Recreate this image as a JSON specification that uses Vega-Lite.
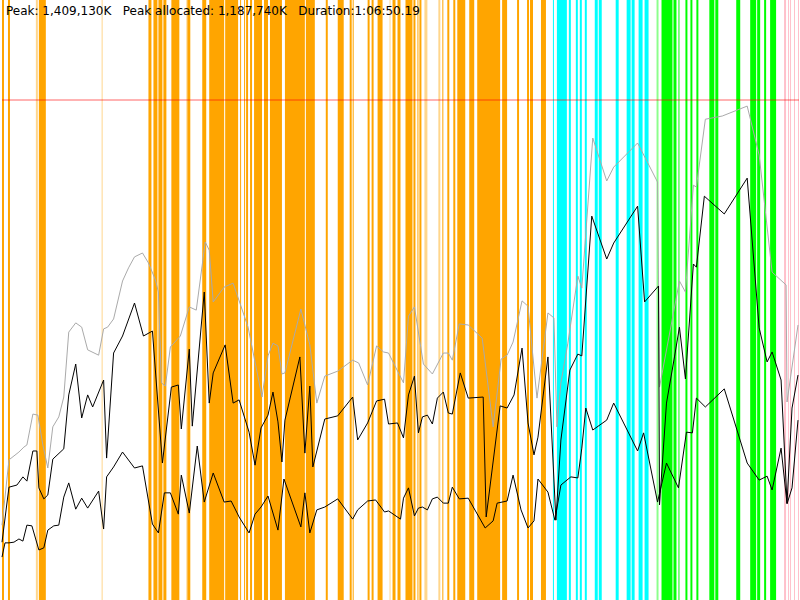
{
  "$schema": "https://vega.github.io/schema/vega-lite/v6.json",
  "description": "Heap profile over the run: GC phases as stripes, heap size and live data as lines",
  "width": 800,
  "height": 600,
  "padding": 0,
  "autosize": {"type": "fit", "contains": "padding"},
  "background": "white",
  "config": {"view": {"stroke": null}},
  "datasets": {
    "gc": [
      {"start": 0, "end": 10, "phase": "p1", "weak": 0},
      {"start": 30, "end": 40, "phase": "p1", "weak": 0},
      {"start": 170, "end": 180, "phase": "p1", "weak": 1},
      {"start": 185, "end": 220, "phase": "p1", "weak": 0},
      {"start": 500, "end": 505, "phase": "p1", "weak": 1},
      {"start": 735, "end": 750, "phase": "p1", "weak": 0},
      {"start": 760, "end": 780, "phase": "p1", "weak": 0},
      {"start": 785, "end": 805, "phase": "p1", "weak": 0},
      {"start": 810, "end": 825, "phase": "p1", "weak": 0},
      {"start": 850, "end": 890, "phase": "p1", "weak": 0},
      {"start": 925, "end": 930, "phase": "p1", "weak": 1},
      {"start": 930, "end": 945, "phase": "p1", "weak": 0},
      {"start": 1005, "end": 1025, "phase": "p1", "weak": 0},
      {"start": 1040, "end": 1115, "phase": "p1", "weak": 0},
      {"start": 1120, "end": 1185, "phase": "p1", "weak": 0},
      {"start": 1195, "end": 1200, "phase": "p1", "weak": 0},
      {"start": 1215, "end": 1220, "phase": "p1", "weak": 0},
      {"start": 1225, "end": 1235, "phase": "p1", "weak": 0},
      {"start": 1245, "end": 1255, "phase": "p1", "weak": 0},
      {"start": 1265, "end": 1305, "phase": "p1", "weak": 0},
      {"start": 1315, "end": 1335, "phase": "p1", "weak": 0},
      {"start": 1345, "end": 1405, "phase": "p1", "weak": 0},
      {"start": 1420, "end": 1520, "phase": "p1", "weak": 0},
      {"start": 1525, "end": 1570, "phase": "p1", "weak": 0},
      {"start": 1625, "end": 1635, "phase": "p1", "weak": 0},
      {"start": 1685, "end": 1715, "phase": "p1", "weak": 0},
      {"start": 1745, "end": 1755, "phase": "p1", "weak": 0},
      {"start": 1760, "end": 1765, "phase": "p1", "weak": 0},
      {"start": 1835, "end": 1845, "phase": "p1", "weak": 0},
      {"start": 1855, "end": 1865, "phase": "p1", "weak": 0},
      {"start": 1885, "end": 1910, "phase": "p1", "weak": 0},
      {"start": 1945, "end": 1950, "phase": "p1", "weak": 1},
      {"start": 1960, "end": 1975, "phase": "p1", "weak": 0},
      {"start": 1985, "end": 2000, "phase": "p1", "weak": 0},
      {"start": 2025, "end": 2060, "phase": "p1", "weak": 0},
      {"start": 2065, "end": 2075, "phase": "p1", "weak": 0},
      {"start": 2085, "end": 2090, "phase": "p1", "weak": 0},
      {"start": 2095, "end": 2105, "phase": "p1", "weak": 0},
      {"start": 2120, "end": 2135, "phase": "p1", "weak": 1},
      {"start": 2190, "end": 2200, "phase": "p1", "weak": 1},
      {"start": 2210, "end": 2215, "phase": "p1", "weak": 0},
      {"start": 2235, "end": 2245, "phase": "p1", "weak": 0},
      {"start": 2265, "end": 2275, "phase": "p1", "weak": 0},
      {"start": 2285, "end": 2325, "phase": "p1", "weak": 0},
      {"start": 2345, "end": 2370, "phase": "p1", "weak": 0},
      {"start": 2385, "end": 2500, "phase": "p1", "weak": 0},
      {"start": 2510, "end": 2535, "phase": "p1", "weak": 0},
      {"start": 2585, "end": 2595, "phase": "p1", "weak": 0},
      {"start": 2635, "end": 2645, "phase": "p1", "weak": 0},
      {"start": 2650, "end": 2665, "phase": "p1", "weak": 0},
      {"start": 2705, "end": 2730, "phase": "p1", "weak": 0},
      {"start": 2765, "end": 2770, "phase": "p2", "weak": 0},
      {"start": 2785, "end": 2835, "phase": "p2", "weak": 0},
      {"start": 2845, "end": 2855, "phase": "p2", "weak": 0},
      {"start": 2880, "end": 2890, "phase": "p2", "weak": 0},
      {"start": 2900, "end": 2910, "phase": "p2", "weak": 0},
      {"start": 2925, "end": 2935, "phase": "p2", "weak": 0},
      {"start": 2975, "end": 2990, "phase": "p2", "weak": 0},
      {"start": 2995, "end": 3010, "phase": "p2", "weak": 0},
      {"start": 3080, "end": 3095, "phase": "p2", "weak": 0},
      {"start": 3135, "end": 3155, "phase": "p2", "weak": 0},
      {"start": 3160, "end": 3175, "phase": "p2", "weak": 0},
      {"start": 3195, "end": 3215, "phase": "p2", "weak": 0},
      {"start": 3225, "end": 3245, "phase": "p2", "weak": 0},
      {"start": 3285, "end": 3295, "phase": "p3", "weak": 1},
      {"start": 3310, "end": 3365, "phase": "p3", "weak": 0},
      {"start": 3370, "end": 3385, "phase": "p3", "weak": 0},
      {"start": 3395, "end": 3400, "phase": "p3", "weak": 0},
      {"start": 3430, "end": 3440, "phase": "p3", "weak": 0},
      {"start": 3455, "end": 3465, "phase": "p3", "weak": 0},
      {"start": 3485, "end": 3495, "phase": "p3", "weak": 0},
      {"start": 3550, "end": 3575, "phase": "p3", "weak": 0},
      {"start": 3580, "end": 3595, "phase": "p3", "weak": 0},
      {"start": 3685, "end": 3705, "phase": "p3", "weak": 0},
      {"start": 3755, "end": 3785, "phase": "p3", "weak": 0},
      {"start": 3790, "end": 3805, "phase": "p3", "weak": 0},
      {"start": 3825, "end": 3835, "phase": "p3", "weak": 0},
      {"start": 3855, "end": 3885, "phase": "p3", "weak": 0},
      {"start": 3925, "end": 3935, "phase": "p4", "weak": 0},
      {"start": 3945, "end": 3950, "phase": "p4", "weak": 0},
      {"start": 3955, "end": 3960, "phase": "p4", "weak": 0},
      {"start": 3975, "end": 3980, "phase": "p4", "weak": 0},
      {"start": 3995, "end": 4000, "phase": "p4", "weak": 0}
    ],
    "mem": [
      {"series": "heap", "t": 0, "mb": 211}, {"series": "heap", "t": 35, "mb": 395},
      {"series": "heap", "t": 85, "mb": 417}, {"series": "heap", "t": 110, "mb": 431},
      {"series": "heap", "t": 125, "mb": 437}, {"series": "heap", "t": 155, "mb": 524},
      {"series": "heap", "t": 180, "mb": 521}, {"series": "heap", "t": 205, "mb": 437},
      {"series": "heap", "t": 230, "mb": 372}, {"series": "heap", "t": 255, "mb": 488},
      {"series": "heap", "t": 285, "mb": 516}, {"series": "heap", "t": 310, "mb": 572},
      {"series": "heap", "t": 335, "mb": 755}, {"series": "heap", "t": 370, "mb": 781},
      {"series": "heap", "t": 400, "mb": 769}, {"series": "heap", "t": 430, "mb": 705},
      {"series": "heap", "t": 485, "mb": 690}, {"series": "heap", "t": 510, "mb": 764},
      {"series": "heap", "t": 530, "mb": 769}, {"series": "heap", "t": 560, "mb": 792},
      {"series": "heap", "t": 605, "mb": 899}, {"series": "heap", "t": 635, "mb": 936},
      {"series": "heap", "t": 665, "mb": 967}, {"series": "heap", "t": 705, "mb": 978},
      {"series": "heap", "t": 735, "mb": 950}, {"series": "heap", "t": 770, "mb": 902},
      {"series": "heap", "t": 785, "mb": 868}, {"series": "heap", "t": 800, "mb": 612},
      {"series": "heap", "t": 820, "mb": 603}, {"series": "heap", "t": 845, "mb": 713},
      {"series": "heap", "t": 895, "mb": 744}, {"series": "heap", "t": 940, "mb": 826},
      {"series": "heap", "t": 975, "mb": 817}, {"series": "heap", "t": 1020, "mb": 1009},
      {"series": "heap", "t": 1040, "mb": 986}, {"series": "heap", "t": 1060, "mb": 840},
      {"series": "heap", "t": 1115, "mb": 882}, {"series": "heap", "t": 1160, "mb": 893},
      {"series": "heap", "t": 1235, "mb": 769}, {"series": "heap", "t": 1305, "mb": 572},
      {"series": "heap", "t": 1335, "mb": 688}, {"series": "heap", "t": 1360, "mb": 724},
      {"series": "heap", "t": 1385, "mb": 716}, {"series": "heap", "t": 1405, "mb": 637},
      {"series": "heap", "t": 1420, "mb": 640}, {"series": "heap", "t": 1500, "mb": 820},
      {"series": "heap", "t": 1545, "mb": 719}, {"series": "heap", "t": 1580, "mb": 555},
      {"series": "heap", "t": 1620, "mb": 631}, {"series": "heap", "t": 1685, "mb": 645},
      {"series": "heap", "t": 1760, "mb": 676}, {"series": "heap", "t": 1790, "mb": 668},
      {"series": "heap", "t": 1835, "mb": 606}, {"series": "heap", "t": 1880, "mb": 716},
      {"series": "heap", "t": 1915, "mb": 699}, {"series": "heap", "t": 1940, "mb": 696},
      {"series": "heap", "t": 2015, "mb": 612}, {"series": "heap", "t": 2040, "mb": 800},
      {"series": "heap", "t": 2070, "mb": 826}, {"series": "heap", "t": 2115, "mb": 665},
      {"series": "heap", "t": 2160, "mb": 637}, {"series": "heap", "t": 2215, "mb": 696},
      {"series": "heap", "t": 2240, "mb": 696}, {"series": "heap", "t": 2260, "mb": 676},
      {"series": "heap", "t": 2295, "mb": 778}, {"series": "heap", "t": 2340, "mb": 775},
      {"series": "heap", "t": 2410, "mb": 738}, {"series": "heap", "t": 2465, "mb": 488},
      {"series": "heap", "t": 2505, "mb": 679}, {"series": "heap", "t": 2535, "mb": 690},
      {"series": "heap", "t": 2565, "mb": 727}, {"series": "heap", "t": 2610, "mb": 843},
      {"series": "heap", "t": 2640, "mb": 828}, {"series": "heap", "t": 2685, "mb": 569},
      {"series": "heap", "t": 2740, "mb": 809}, {"series": "heap", "t": 2770, "mb": 795},
      {"series": "heap", "t": 2785, "mb": 488}, {"series": "heap", "t": 2805, "mb": 612},
      {"series": "heap", "t": 2840, "mb": 724}, {"series": "heap", "t": 2890, "mb": 913},
      {"series": "heap", "t": 2910, "mb": 879}, {"series": "heap", "t": 2965, "mb": 1302},
      {"series": "heap", "t": 3035, "mb": 1181}, {"series": "heap", "t": 3070, "mb": 1220},
      {"series": "heap", "t": 3190, "mb": 1288}, {"series": "heap", "t": 3290, "mb": 1178},
      {"series": "heap", "t": 3300, "mb": 600}, {"series": "heap", "t": 3400, "mb": 899},
      {"series": "heap", "t": 3430, "mb": 868}, {"series": "heap", "t": 3470, "mb": 1169},
      {"series": "heap", "t": 3485, "mb": 1164}, {"series": "heap", "t": 3530, "mb": 1355},
      {"series": "heap", "t": 3615, "mb": 1364}, {"series": "heap", "t": 3740, "mb": 1392},
      {"series": "heap", "t": 3800, "mb": 1254}, {"series": "heap", "t": 3865, "mb": 924},
      {"series": "heap", "t": 3935, "mb": 888}, {"series": "heap", "t": 3940, "mb": 558},
      {"series": "heap", "t": 3995, "mb": 775},

      {"series": "live", "t": 0, "mb": 163}, {"series": "live", "t": 35, "mb": 318},
      {"series": "live", "t": 75, "mb": 324}, {"series": "live", "t": 105, "mb": 347},
      {"series": "live", "t": 125, "mb": 335}, {"series": "live", "t": 155, "mb": 420},
      {"series": "live", "t": 175, "mb": 420}, {"series": "live", "t": 185, "mb": 316},
      {"series": "live", "t": 210, "mb": 285}, {"series": "live", "t": 230, "mb": 296},
      {"series": "live", "t": 255, "mb": 397}, {"series": "live", "t": 310, "mb": 426},
      {"series": "live", "t": 335, "mb": 578}, {"series": "live", "t": 370, "mb": 665},
      {"series": "live", "t": 400, "mb": 513}, {"series": "live", "t": 430, "mb": 578},
      {"series": "live", "t": 455, "mb": 544}, {"series": "live", "t": 510, "mb": 620},
      {"series": "live", "t": 525, "mb": 400}, {"series": "live", "t": 560, "mb": 696},
      {"series": "live", "t": 605, "mb": 744}, {"series": "live", "t": 665, "mb": 837},
      {"series": "live", "t": 710, "mb": 744}, {"series": "live", "t": 755, "mb": 758},
      {"series": "live", "t": 805, "mb": 386}, {"series": "live", "t": 850, "mb": 600},
      {"series": "live", "t": 885, "mb": 606}, {"series": "live", "t": 900, "mb": 482},
      {"series": "live", "t": 940, "mb": 707}, {"series": "live", "t": 955, "mb": 490},
      {"series": "live", "t": 1015, "mb": 868}, {"series": "live", "t": 1040, "mb": 555},
      {"series": "live", "t": 1060, "mb": 640}, {"series": "live", "t": 1120, "mb": 719},
      {"series": "live", "t": 1160, "mb": 555}, {"series": "live", "t": 1190, "mb": 564},
      {"series": "live", "t": 1240, "mb": 473}, {"series": "live", "t": 1270, "mb": 380},
      {"series": "live", "t": 1300, "mb": 485}, {"series": "live", "t": 1335, "mb": 521},
      {"series": "live", "t": 1360, "mb": 586}, {"series": "live", "t": 1385, "mb": 502},
      {"series": "live", "t": 1405, "mb": 389}, {"series": "live", "t": 1420, "mb": 507},
      {"series": "live", "t": 1495, "mb": 685}, {"series": "live", "t": 1520, "mb": 414},
      {"series": "live", "t": 1545, "mb": 603}, {"series": "live", "t": 1560, "mb": 375},
      {"series": "live", "t": 1620, "mb": 510}, {"series": "live", "t": 1685, "mb": 519},
      {"series": "live", "t": 1760, "mb": 572}, {"series": "live", "t": 1785, "mb": 451},
      {"series": "live", "t": 1835, "mb": 499}, {"series": "live", "t": 1880, "mb": 561},
      {"series": "live", "t": 1920, "mb": 566}, {"series": "live", "t": 1940, "mb": 496},
      {"series": "live", "t": 1985, "mb": 499}, {"series": "live", "t": 2015, "mb": 457},
      {"series": "live", "t": 2040, "mb": 578}, {"series": "live", "t": 2070, "mb": 631},
      {"series": "live", "t": 2090, "mb": 471}, {"series": "live", "t": 2110, "mb": 516},
      {"series": "live", "t": 2135, "mb": 521}, {"series": "live", "t": 2160, "mb": 496},
      {"series": "live", "t": 2185, "mb": 569}, {"series": "live", "t": 2215, "mb": 586},
      {"series": "live", "t": 2240, "mb": 527}, {"series": "live", "t": 2260, "mb": 524},
      {"series": "live", "t": 2300, "mb": 640}, {"series": "live", "t": 2340, "mb": 569},
      {"series": "live", "t": 2415, "mb": 572}, {"series": "live", "t": 2430, "mb": 234},
      {"series": "live", "t": 2500, "mb": 547}, {"series": "live", "t": 2535, "mb": 541},
      {"series": "live", "t": 2570, "mb": 578}, {"series": "live", "t": 2610, "mb": 710},
      {"series": "live", "t": 2640, "mb": 499}, {"series": "live", "t": 2670, "mb": 409},
      {"series": "live", "t": 2690, "mb": 459}, {"series": "live", "t": 2740, "mb": 685},
      {"series": "live", "t": 2780, "mb": 225}, {"series": "live", "t": 2805, "mb": 451},
      {"series": "live", "t": 2850, "mb": 648}, {"series": "live", "t": 2890, "mb": 693},
      {"series": "live", "t": 2910, "mb": 688}, {"series": "live", "t": 2960, "mb": 1082},
      {"series": "live", "t": 3035, "mb": 961}, {"series": "live", "t": 3070, "mb": 1006},
      {"series": "live", "t": 3190, "mb": 1110}, {"series": "live", "t": 3225, "mb": 840},
      {"series": "live", "t": 3295, "mb": 885}, {"series": "live", "t": 3300, "mb": 268},
      {"series": "live", "t": 3335, "mb": 555}, {"series": "live", "t": 3375, "mb": 685},
      {"series": "live", "t": 3400, "mb": 769}, {"series": "live", "t": 3430, "mb": 623},
      {"series": "live", "t": 3470, "mb": 947}, {"series": "live", "t": 3485, "mb": 938},
      {"series": "live", "t": 3525, "mb": 1138}, {"series": "live", "t": 3625, "mb": 1088},
      {"series": "live", "t": 3740, "mb": 1189}, {"series": "live", "t": 3800, "mb": 767},
      {"series": "live", "t": 3840, "mb": 671}, {"series": "live", "t": 3865, "mb": 699},
      {"series": "live", "t": 3910, "mb": 620}, {"series": "live", "t": 3940, "mb": 273},
      {"series": "live", "t": 3965, "mb": 541}, {"series": "live", "t": 3995, "mb": 634},

      {"series": "alloc", "t": 0, "mb": 121}, {"series": "alloc", "t": 15, "mb": 161},
      {"series": "alloc", "t": 35, "mb": 161}, {"series": "alloc", "t": 60, "mb": 163},
      {"series": "alloc", "t": 85, "mb": 172}, {"series": "alloc", "t": 105, "mb": 166},
      {"series": "alloc", "t": 125, "mb": 211}, {"series": "alloc", "t": 150, "mb": 209},
      {"series": "alloc", "t": 185, "mb": 141}, {"series": "alloc", "t": 210, "mb": 147},
      {"series": "alloc", "t": 230, "mb": 197}, {"series": "alloc", "t": 260, "mb": 209},
      {"series": "alloc", "t": 285, "mb": 211}, {"series": "alloc", "t": 310, "mb": 290},
      {"series": "alloc", "t": 335, "mb": 330}, {"series": "alloc", "t": 370, "mb": 256},
      {"series": "alloc", "t": 400, "mb": 287}, {"series": "alloc", "t": 430, "mb": 259},
      {"series": "alloc", "t": 485, "mb": 307}, {"series": "alloc", "t": 510, "mb": 200},
      {"series": "alloc", "t": 525, "mb": 347}, {"series": "alloc", "t": 560, "mb": 375},
      {"series": "alloc", "t": 605, "mb": 417}, {"series": "alloc", "t": 665, "mb": 372},
      {"series": "alloc", "t": 705, "mb": 378}, {"series": "alloc", "t": 755, "mb": 214},
      {"series": "alloc", "t": 785, "mb": 189}, {"series": "alloc", "t": 815, "mb": 302},
      {"series": "alloc", "t": 845, "mb": 302}, {"series": "alloc", "t": 885, "mb": 242},
      {"series": "alloc", "t": 900, "mb": 352}, {"series": "alloc", "t": 940, "mb": 245},
      {"series": "alloc", "t": 980, "mb": 434}, {"series": "alloc", "t": 1015, "mb": 276},
      {"series": "alloc", "t": 1060, "mb": 358}, {"series": "alloc", "t": 1115, "mb": 276},
      {"series": "alloc", "t": 1150, "mb": 279}, {"series": "alloc", "t": 1190, "mb": 234},
      {"series": "alloc", "t": 1240, "mb": 189}, {"series": "alloc", "t": 1270, "mb": 242},
      {"series": "alloc", "t": 1300, "mb": 262}, {"series": "alloc", "t": 1335, "mb": 293},
      {"series": "alloc", "t": 1385, "mb": 197}, {"series": "alloc", "t": 1415, "mb": 341},
      {"series": "alloc", "t": 1500, "mb": 206}, {"series": "alloc", "t": 1520, "mb": 302},
      {"series": "alloc", "t": 1545, "mb": 189}, {"series": "alloc", "t": 1580, "mb": 254},
      {"series": "alloc", "t": 1620, "mb": 262}, {"series": "alloc", "t": 1685, "mb": 285},
      {"series": "alloc", "t": 1760, "mb": 228}, {"series": "alloc", "t": 1785, "mb": 254},
      {"series": "alloc", "t": 1835, "mb": 279}, {"series": "alloc", "t": 1875, "mb": 282},
      {"series": "alloc", "t": 1920, "mb": 248}, {"series": "alloc", "t": 1940, "mb": 251},
      {"series": "alloc", "t": 2000, "mb": 228}, {"series": "alloc", "t": 2015, "mb": 287},
      {"series": "alloc", "t": 2040, "mb": 316}, {"series": "alloc", "t": 2070, "mb": 237},
      {"series": "alloc", "t": 2090, "mb": 259}, {"series": "alloc", "t": 2110, "mb": 262},
      {"series": "alloc", "t": 2135, "mb": 254}, {"series": "alloc", "t": 2160, "mb": 285},
      {"series": "alloc", "t": 2185, "mb": 290}, {"series": "alloc", "t": 2215, "mb": 273},
      {"series": "alloc", "t": 2240, "mb": 273}, {"series": "alloc", "t": 2260, "mb": 318},
      {"series": "alloc", "t": 2295, "mb": 285}, {"series": "alloc", "t": 2340, "mb": 287},
      {"series": "alloc", "t": 2425, "mb": 203}, {"series": "alloc", "t": 2465, "mb": 223},
      {"series": "alloc", "t": 2485, "mb": 273}, {"series": "alloc", "t": 2535, "mb": 279},
      {"series": "alloc", "t": 2565, "mb": 352}, {"series": "alloc", "t": 2605, "mb": 254},
      {"series": "alloc", "t": 2640, "mb": 203}, {"series": "alloc", "t": 2670, "mb": 223},
      {"series": "alloc", "t": 2690, "mb": 341}, {"series": "alloc", "t": 2740, "mb": 304},
      {"series": "alloc", "t": 2775, "mb": 225}, {"series": "alloc", "t": 2805, "mb": 324},
      {"series": "alloc", "t": 2855, "mb": 347}, {"series": "alloc", "t": 2890, "mb": 344},
      {"series": "alloc", "t": 2910, "mb": 428}, {"series": "alloc", "t": 2930, "mb": 541},
      {"series": "alloc", "t": 2965, "mb": 479}, {"series": "alloc", "t": 3035, "mb": 507},
      {"series": "alloc", "t": 3070, "mb": 555}, {"series": "alloc", "t": 3190, "mb": 420},
      {"series": "alloc", "t": 3220, "mb": 471}, {"series": "alloc", "t": 3290, "mb": 276},
      {"series": "alloc", "t": 3335, "mb": 386}, {"series": "alloc", "t": 3395, "mb": 316},
      {"series": "alloc", "t": 3435, "mb": 473}, {"series": "alloc", "t": 3465, "mb": 471},
      {"series": "alloc", "t": 3485, "mb": 569}, {"series": "alloc", "t": 3530, "mb": 544},
      {"series": "alloc", "t": 3625, "mb": 595}, {"series": "alloc", "t": 3740, "mb": 386},
      {"series": "alloc", "t": 3800, "mb": 338}, {"series": "alloc", "t": 3840, "mb": 349},
      {"series": "alloc", "t": 3865, "mb": 310}, {"series": "alloc", "t": 3910, "mb": 428},
      {"series": "alloc", "t": 3940, "mb": 271}, {"series": "alloc", "t": 3965, "mb": 316},
      {"series": "alloc", "t": 3995, "mb": 507}
    ],
    "stats": [
      {"label": "Peak: 1,409,130K \u00a0\u00a0Peak allocated: 1,187,740K \u00a0\u00a0Duration:1:06:50.19", "peak": 1409.13}
    ]
  },
  "layer": [
    {
      "data": {"name": "gc"},
      "mark": {"type": "rect"},
      "encoding": {
        "x": {"field": "start", "type": "quantitative", "scale": {"domain": [0, 4000], "nice": false, "zero": false}, "axis": null},
        "x2": {"field": "end"},
        "color": {
          "field": "phase",
          "type": "nominal",
          "scale": {"domain": ["p1", "p2", "p3", "p4"], "range": ["#ffa500", "#00ffff", "#00ff00", "#ffc0cb"]},
          "legend": null
        },
        "opacity": {"field": "weak", "type": "quantitative", "scale": {"domain": [0, 1], "range": [1, 0.45]}, "legend": null}
      }
    },
    {
      "data": {"name": "stats"},
      "mark": {"type": "rule", "color": "#ff0000", "opacity": 0.6, "strokeWidth": 1},
      "encoding": {
        "y": {"field": "peak", "type": "quantitative", "scale": {"domain": [0, 1691], "nice": false}, "axis": null}
      }
    },
    {
      "data": {"name": "mem"},
      "mark": {"type": "line", "strokeWidth": 1, "interpolate": "linear"},
      "encoding": {
        "x": {"field": "t", "type": "quantitative", "axis": null},
        "y": {"field": "mb", "type": "quantitative", "axis": null},
        "detail": {"field": "series", "type": "nominal"},
        "color": {
          "field": "series",
          "type": "nominal",
          "scale": {"domain": ["heap", "live", "alloc"], "range": ["#aaaaaa", "#000000", "#000000"]},
          "legend": null
        },
        "order": {"field": "t", "type": "quantitative"}
      }
    },
    {
      "data": {"name": "stats"},
      "mark": {"type": "text", "align": "left", "baseline": "top", "font": "DejaVu Sans", "fontSize": 12, "color": "#000000", "dx": 4, "dy": 6},
      "encoding": {
        "x": {"datum": 0},
        "y": {"datum": 1691},
        "text": {"field": "label"}
      }
    }
  ],
  "resolve": {"scale": {"color": "independent"}}
}
